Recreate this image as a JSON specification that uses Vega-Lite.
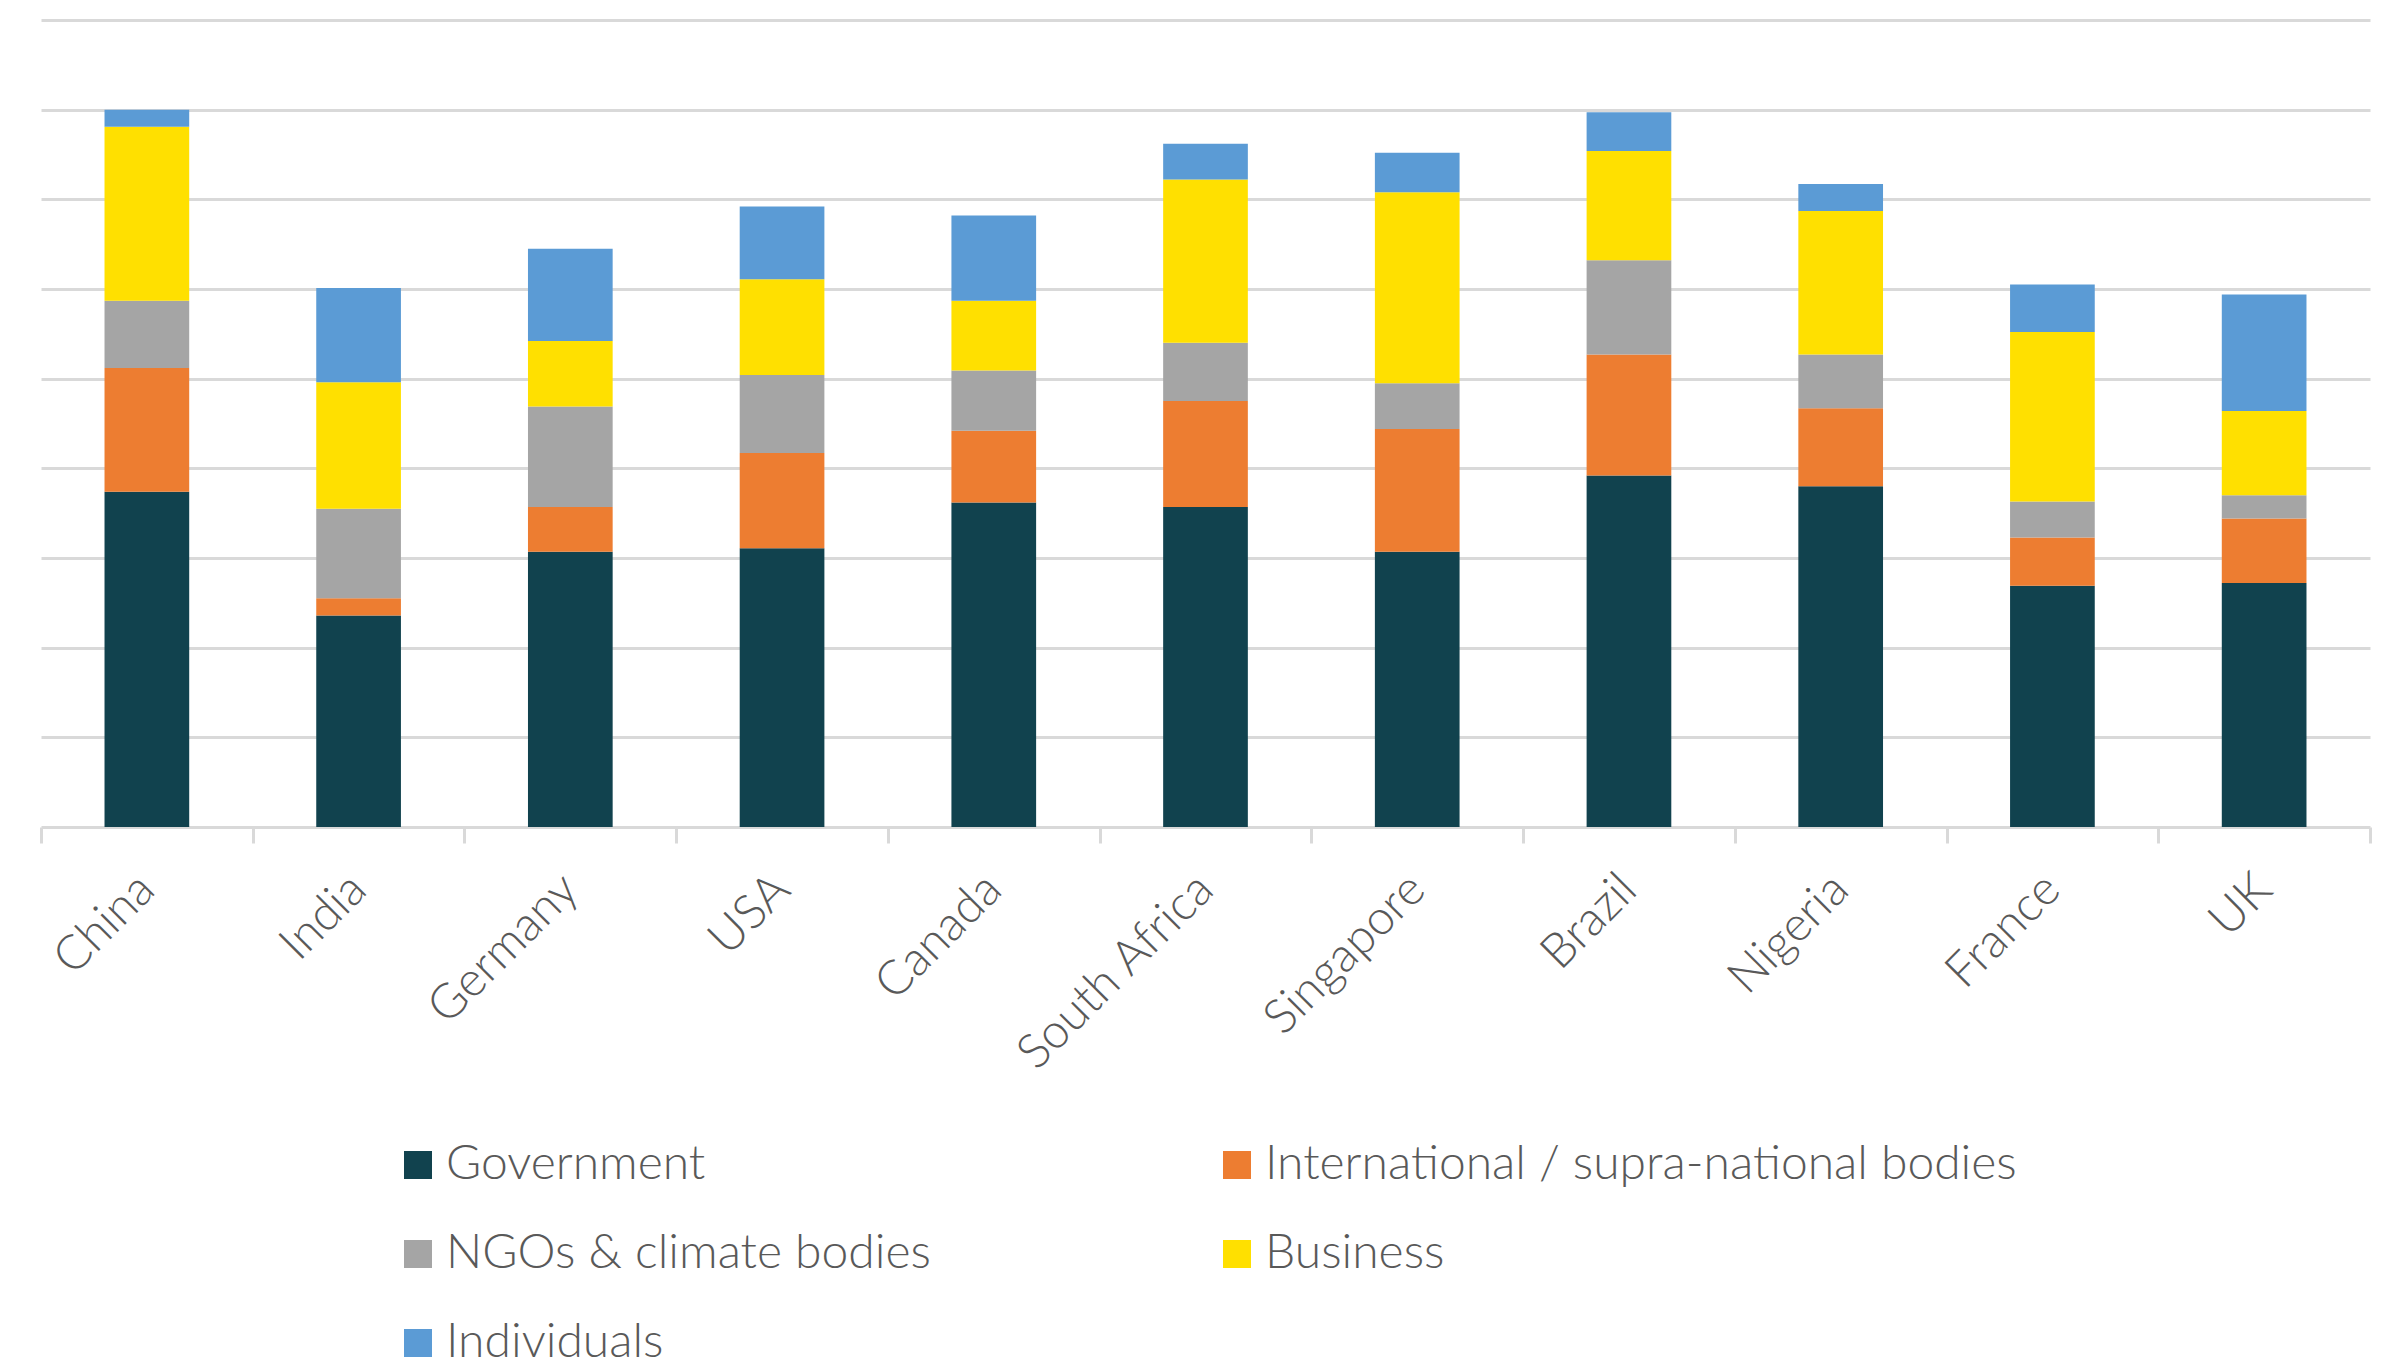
{
  "$schema": "https://vega.github.io/schema/vega-lite/v6.json",
  "width": 2329,
  "height": 807,
  "autosize": {"type": "none"},
  "padding": {"left": 41, "top": 20, "right": 28, "bottom": 535},
  "background": "white",
  "config": {"view": {"stroke": null}, "font": "Lato"},
  "datasets": {
    "shares": [
      {"country": "China", "actor": "Government", "value": 37.4},
      {"country": "China", "actor": "International / supra-national bodies", "value": 13.8},
      {"country": "China", "actor": "NGOs & climate bodies", "value": 7.5},
      {"country": "China", "actor": "Business", "value": 19.4},
      {"country": "China", "actor": "Individuals", "value": 1.9},
      {"country": "India", "actor": "Government", "value": 23.6},
      {"country": "India", "actor": "International / supra-national bodies", "value": 1.9},
      {"country": "India", "actor": "NGOs & climate bodies", "value": 10.0},
      {"country": "India", "actor": "Business", "value": 14.1},
      {"country": "India", "actor": "Individuals", "value": 10.5},
      {"country": "Germany", "actor": "Government", "value": 30.7},
      {"country": "Germany", "actor": "International / supra-national bodies", "value": 5.0},
      {"country": "Germany", "actor": "NGOs & climate bodies", "value": 11.2},
      {"country": "Germany", "actor": "Business", "value": 7.3},
      {"country": "Germany", "actor": "Individuals", "value": 10.3},
      {"country": "USA", "actor": "Government", "value": 31.1},
      {"country": "USA", "actor": "International / supra-national bodies", "value": 10.6},
      {"country": "USA", "actor": "NGOs & climate bodies", "value": 8.7},
      {"country": "USA", "actor": "Business", "value": 10.7},
      {"country": "USA", "actor": "Individuals", "value": 8.1},
      {"country": "Canada", "actor": "Government", "value": 36.2},
      {"country": "Canada", "actor": "International / supra-national bodies", "value": 8.0},
      {"country": "Canada", "actor": "NGOs & climate bodies", "value": 6.7},
      {"country": "Canada", "actor": "Business", "value": 7.8},
      {"country": "Canada", "actor": "Individuals", "value": 9.5},
      {"country": "South Africa", "actor": "Government", "value": 35.7},
      {"country": "South Africa", "actor": "International / supra-national bodies", "value": 11.8},
      {"country": "South Africa", "actor": "NGOs & climate bodies", "value": 6.5},
      {"country": "South Africa", "actor": "Business", "value": 18.2},
      {"country": "South Africa", "actor": "Individuals", "value": 4.0},
      {"country": "Singapore", "actor": "Government", "value": 30.7},
      {"country": "Singapore", "actor": "International / supra-national bodies", "value": 13.7},
      {"country": "Singapore", "actor": "NGOs & climate bodies", "value": 5.1},
      {"country": "Singapore", "actor": "Business", "value": 21.3},
      {"country": "Singapore", "actor": "Individuals", "value": 4.4},
      {"country": "Brazil", "actor": "Government", "value": 39.2},
      {"country": "Brazil", "actor": "International / supra-national bodies", "value": 13.5},
      {"country": "Brazil", "actor": "NGOs & climate bodies", "value": 10.5},
      {"country": "Brazil", "actor": "Business", "value": 12.2},
      {"country": "Brazil", "actor": "Individuals", "value": 4.3},
      {"country": "Nigeria", "actor": "Government", "value": 38.0},
      {"country": "Nigeria", "actor": "International / supra-national bodies", "value": 8.7},
      {"country": "Nigeria", "actor": "NGOs & climate bodies", "value": 6.0},
      {"country": "Nigeria", "actor": "Business", "value": 16.0},
      {"country": "Nigeria", "actor": "Individuals", "value": 3.0},
      {"country": "France", "actor": "Government", "value": 26.9},
      {"country": "France", "actor": "International / supra-national bodies", "value": 5.4},
      {"country": "France", "actor": "NGOs & climate bodies", "value": 4.0},
      {"country": "France", "actor": "Business", "value": 18.9},
      {"country": "France", "actor": "Individuals", "value": 5.3},
      {"country": "UK", "actor": "Government", "value": 27.2},
      {"country": "UK", "actor": "International / supra-national bodies", "value": 7.2},
      {"country": "UK", "actor": "NGOs & climate bodies", "value": 2.6},
      {"country": "UK", "actor": "Business", "value": 9.4},
      {"country": "UK", "actor": "Individuals", "value": 13.0}
    ]
  },
  "data": {"name": "shares"},
  "transform": [
    {"calculate": "indexof(['Government', 'International / supra-national bodies', 'NGOs & climate bodies', 'Business', 'Individuals'], datum.actor)", "as": "stackOrder"}
  ],
  "mark": {"type": "bar", "width": {"band": 0.4}},
  "encoding": {
    "x": {
      "field": "country",
      "type": "nominal",
      "sort": ["China", "India", "Germany", "USA", "Canada", "South Africa", "Singapore", "Brazil", "Nigeria", "France", "UK"],
      "scale": {"paddingInner": 0, "paddingOuter": 0},
      "axis": {
        "title": null,
        "labelAngle": -45,
        "labelAlign": "right",
        "labelBaseline": "middle",
        "labelFont": "Lato",
        "labelFontSize": 48,
        "labelFontWeight": 300,
        "labelColor": "#595959",
        "labelPadding": 39,
        "labelLimit": 1000,
        "tickBand": "extent",
        "tickColor": "#d9d9d9",
        "tickWidth": 3,
        "tickSize": 16,
        "domainColor": "#d9d9d9",
        "domainWidth": 3,
        "grid": false
      }
    },
    "y": {
      "field": "value",
      "type": "quantitative",
      "stack": "zero",
      "scale": {"domain": [0, 90], "nice": false},
      "axis": {
        "title": null,
        "labels": false,
        "ticks": false,
        "domain": false,
        "grid": true,
        "gridColor": "#d9d9d9",
        "gridWidth": 3,
        "values": [10, 20, 30, 40, 50, 60, 70, 80, 90]
      }
    },
    "order": {"field": "stackOrder", "type": "quantitative", "sort": "ascending"},
    "color": {
      "field": "actor",
      "type": "nominal",
      "sort": ["Government", "International / supra-national bodies", "NGOs & climate bodies", "Business", "Individuals"],
      "scale": {
        "domain": ["Government", "International / supra-national bodies", "NGOs & climate bodies", "Business", "Individuals"],
        "range": ["#11424e", "#ed7d31", "#a5a5a5", "#ffe000", "#5b9bd5"]
      },
      "legend": {
        "title": null,
        "orient": "none",
        "legendX": 353,
        "legendY": 1121,
        "direction": "horizontal",
        "columns": 2,
        "gridAlign": "all",
        "symbolType": "square",
        "symbolSize": 784,
        "symbolStrokeWidth": 0,
        "labelFont": "Lato",
        "labelFontSize": 48,
        "labelFontWeight": 300,
        "labelColor": "#595959",
        "labelOffset": 4,
        "labelLimit": 1200,
        "rowPadding": 41,
        "columnPadding": 15
      }
    }
  }
}
